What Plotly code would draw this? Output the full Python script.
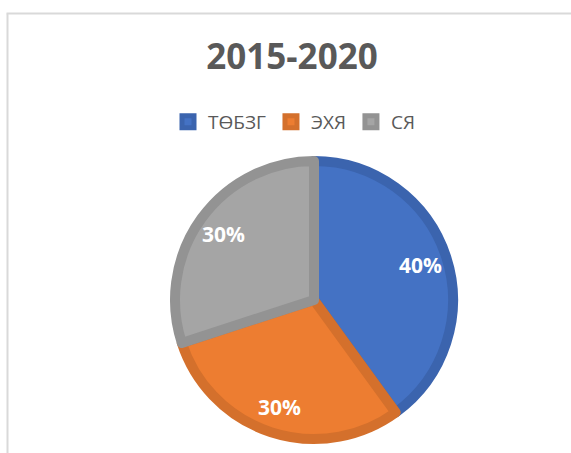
import math
import plotly.graph_objects as go

categories = ["ТӨБЗГ", "ЭХЯ", "СЯ"]
values = [40, 30, 30]
fill_colors = ["#4472C4", "#ED7D31", "#A5A5A5"]
edge_colors = ["#3B64AE", "#D4702C", "#939393"]

W, H = 571, 453
cx, cy, R = 314, 300, 144
lw = 10
r_in = R - lw / 2
label_r = 0.78 * R

fig = go.Figure(go.Pie(
    labels=categories,
    values=values,
    sort=False,
    direction="clockwise",
    rotation=0,
    marker=dict(colors=fill_colors, line=dict(color=edge_colors, width=lw)),
    textinfo="none",
    hoverinfo="label+percent",
    domain=dict(x=[(cx - r_in) / W, (cx + r_in) / W],
                y=[(H - cy - r_in) / H, (H - cy + r_in) / H]),
))

# data labels placed along each slice's mid-angle (computed from the values)
total = sum(values)
annotations = []
cum = 0
for v in values:
    mid = (cum + v / 2) / total * 2 * math.pi
    cum += v
    px = cx + label_r * math.sin(mid)
    py = cy - label_r * math.cos(mid)
    annotations.append(dict(
        x=px / W, y=1 - py / H, xref="paper", yref="paper",
        text=f"<b>{round(100 * v / total)}%</b>", showarrow=False,
        font=dict(family="Open Sans", size=21, color="white"),
        xanchor="center", yanchor="middle"))

fig.update_layout(
    width=W, height=H,
    margin=dict(l=0, r=0, t=0, b=0),
    paper_bgcolor="white",
    plot_bgcolor="white",
    title=dict(text="<b>2015-2020</b>", x=292 / W, xanchor="center",
               y=1 - 57 / H, yanchor="middle",
               font=dict(family="Open Sans", size=35, color="#595959")),
    legend=dict(orientation="h", x=294 / W, xanchor="center",
                y=1 - 122 / H, yanchor="middle",
                font=dict(family="Open Sans", size=19, color="#595959"),
                itemclick=False, bgcolor="rgba(0,0,0,0)"),
    annotations=annotations,
    shapes=[
        dict(type="line", xref="paper", yref="paper",
             x0=7.5 / W, x1=7.5 / W, y0=0, y1=1 - 13.5 / H,
             line=dict(color="#d9d9d9", width=2)),
        dict(type="line", xref="paper", yref="paper",
             x0=6.5 / W, x1=1, y0=1 - 13.5 / H, y1=1 - 13.5 / H,
             line=dict(color="#d9d9d9", width=2)),
    ],
)

fig.write_html("out.html",
               config={"displayModeBar": False},
               post_script="document.body.style.margin='0';document.body.style.overflow='hidden';")
